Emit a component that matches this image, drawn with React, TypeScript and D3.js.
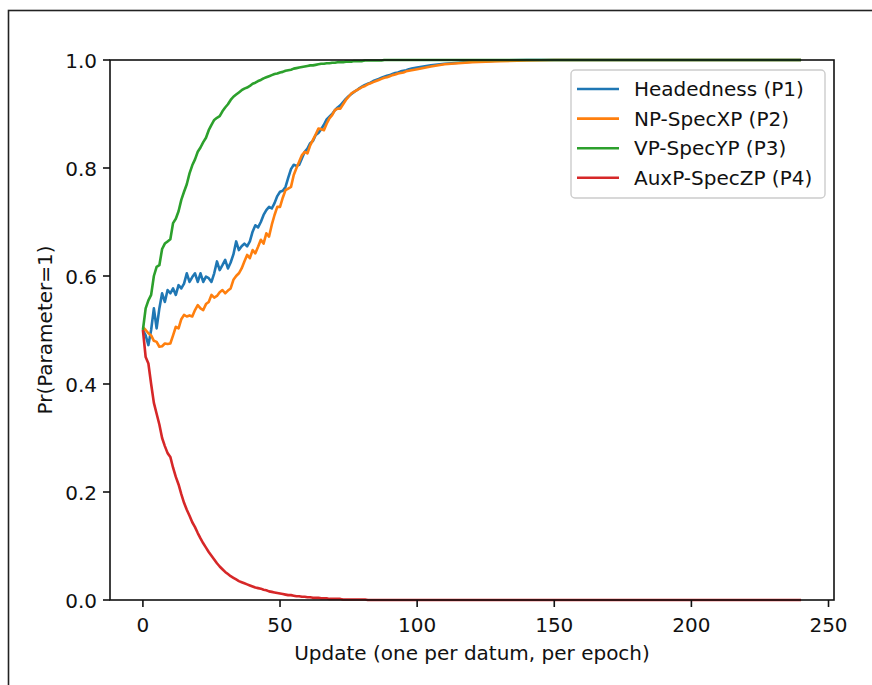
import React from "react";
import * as d3 from "d3";

// Update index (one per datum, per epoch)
const updates: number[] = [
  0, 1, 2, 3, 4, 5, 6, 7, 8, 9, 10, 11, 12, 13, 14, 15, 16, 17, 18, 19,
  20, 21, 22, 23, 24, 25, 26, 27, 28, 29, 30, 31, 32, 33, 34, 35, 36, 37, 38, 39,
  40, 41, 42, 43, 44, 45, 46, 47, 48, 49, 50, 51, 52, 53, 54, 55, 56, 57, 58, 59,
  60, 61, 62, 63, 64, 65, 66, 67, 68, 69, 70, 71, 72, 73, 74, 75, 76, 77, 78, 79,
  80, 81, 82, 83, 84, 85, 86, 87, 88, 89, 90, 91, 92, 93, 94, 95, 96, 97, 98, 99,
  100, 105, 110, 115, 120, 125, 130, 140, 150, 160, 180, 200, 220, 240,
];

const headedness: number[] = [
  0.5, 0.49, 0.472, 0.5, 0.54, 0.503, 0.54, 0.568, 0.552, 0.574, 0.568, 0.577, 0.565, 0.583, 0.577, 0.586, 0.605, 0.589, 0.598, 0.605,
  0.589, 0.605, 0.589, 0.599, 0.596, 0.589, 0.605, 0.627, 0.611, 0.62, 0.63, 0.614, 0.625, 0.64, 0.664, 0.648, 0.655, 0.66, 0.655, 0.664,
  0.682, 0.694, 0.69, 0.7, 0.713, 0.722, 0.728, 0.725, 0.735, 0.748, 0.756, 0.758, 0.765, 0.782, 0.798, 0.806, 0.804, 0.806, 0.818, 0.83,
  0.836, 0.846, 0.85, 0.861, 0.865, 0.872, 0.88, 0.89, 0.895, 0.9, 0.907, 0.912, 0.916, 0.922, 0.928, 0.933, 0.937, 0.941, 0.944, 0.948,
  0.951, 0.954, 0.956, 0.958, 0.961, 0.963, 0.965, 0.967, 0.969, 0.971, 0.972, 0.974, 0.976, 0.977, 0.979, 0.98, 0.981, 0.983, 0.984, 0.985,
  0.986, 0.99, 0.993, 0.995, 0.997, 0.998, 0.999, 1.0, 1.0, 1.0, 1.0, 1.0, 1.0, 1.0,
];

const npSpecXP: number[] = [
  0.505, 0.5, 0.494, 0.49, 0.48, 0.478, 0.469, 0.47, 0.475, 0.474, 0.475, 0.49, 0.506, 0.503, 0.52, 0.528, 0.525, 0.527, 0.525, 0.537,
  0.546, 0.54, 0.537, 0.548, 0.552, 0.565, 0.56, 0.563, 0.57, 0.574, 0.568, 0.573, 0.577, 0.593, 0.6, 0.605, 0.614, 0.627, 0.639, 0.633,
  0.648, 0.642, 0.654, 0.667, 0.66, 0.679, 0.673, 0.695, 0.713, 0.728, 0.728, 0.745, 0.759, 0.762, 0.765, 0.787, 0.8, 0.812, 0.824, 0.83,
  0.827, 0.842, 0.852, 0.862, 0.873, 0.872, 0.87, 0.882, 0.892, 0.898, 0.907, 0.91, 0.91, 0.918, 0.926, 0.932, 0.938, 0.941, 0.944, 0.947,
  0.95, 0.952, 0.955, 0.957, 0.959, 0.961, 0.963, 0.965, 0.967, 0.968, 0.97, 0.972, 0.973, 0.975, 0.976, 0.977, 0.979, 0.98, 0.981, 0.982,
  0.983, 0.988, 0.992, 0.994, 0.996, 0.997, 0.998, 0.999, 1.0, 1.0, 1.0, 1.0, 1.0, 1.0,
];

const vpSpecYP: number[] = [
  0.5, 0.54, 0.555, 0.565, 0.6, 0.617, 0.62, 0.65, 0.66, 0.664, 0.668, 0.698, 0.706, 0.72, 0.741, 0.756, 0.77, 0.79, 0.805, 0.816,
  0.83, 0.838, 0.848, 0.856, 0.87, 0.88, 0.889, 0.893, 0.896, 0.905, 0.912, 0.918, 0.926, 0.932, 0.936, 0.94, 0.944, 0.947, 0.949, 0.952,
  0.956, 0.958, 0.961, 0.963, 0.966, 0.968, 0.97, 0.972, 0.974, 0.975, 0.977, 0.978, 0.98, 0.981, 0.982, 0.984, 0.985, 0.986, 0.987, 0.988,
  0.989, 0.99, 0.99, 0.991, 0.992, 0.993, 0.993, 0.994, 0.994, 0.995, 0.995, 0.996, 0.996, 0.996, 0.997, 0.997, 0.997, 0.998, 0.998, 0.998,
  0.998, 0.999, 0.999, 0.999, 0.999, 0.999, 0.999, 0.999, 1.0, 1.0, 1.0, 1.0, 1.0, 1.0, 1.0, 1.0, 1.0, 1.0, 1.0, 1.0,
  1.0, 1.0, 1.0, 1.0, 1.0, 1.0, 1.0, 1.0, 1.0, 1.0, 1.0, 1.0, 1.0, 1.0,
];

const auxPSpecZP: number[] = [
  0.5, 0.45, 0.438, 0.4, 0.365, 0.345, 0.325, 0.3, 0.285, 0.272, 0.265, 0.245, 0.228, 0.214, 0.196, 0.18, 0.167, 0.156, 0.144, 0.135,
  0.124, 0.114, 0.105, 0.097, 0.089, 0.082, 0.075, 0.068, 0.062, 0.057, 0.052, 0.048, 0.044, 0.041, 0.038, 0.035, 0.033, 0.031, 0.029, 0.027,
  0.025, 0.023, 0.022, 0.021, 0.019, 0.018, 0.016, 0.015, 0.014, 0.013, 0.012, 0.011, 0.01, 0.009, 0.009, 0.008, 0.007, 0.007, 0.006, 0.006,
  0.005, 0.005, 0.004, 0.004, 0.004, 0.003, 0.003, 0.003, 0.002, 0.002, 0.002, 0.002, 0.002, 0.001, 0.001, 0.001, 0.001, 0.001, 0.001, 0.001,
  0.001, 0.001, 0.0, 0.0, 0.0, 0.0, 0.0, 0.0, 0.0, 0.0, 0.0, 0.0, 0.0, 0.0, 0.0, 0.0, 0.0, 0.0, 0.0, 0.0,
  0.0, 0.0, 0.0, 0.0, 0.0, 0.0, 0.0, 0.0, 0.0, 0.0, 0.0, 0.0, 0.0, 0.0,
];

const seriesNames: string[] = ["Headedness (P1)", "NP-SpecXP (P2)", "VP-SpecYP (P3)", "AuxP-SpecZP (P4)"];
const seriesValues: number[][] = [headedness, npSpecXP, vpSpecYP, auxPSpecZP];
const seriesColors: string[] = ["#1f77b4", "#ff7f0e", "#2ca02c", "#d62728"];

const xTicks: number[] = [0, 50, 100, 150, 200, 250];
const yTicks: number[] = [0.0, 0.2, 0.4, 0.6, 0.8, 1.0];
const xLabel = "Update (one per datum, per epoch)";
const yLabel = "Pr(Parameter=1)";

const W = 872;
const H = 685;
const L = 110, R = 834, T = 60, B = 600;
const FONT = "'DejaVu Sans', sans-serif";
const FS = 20;

export default function App() {
  const x = d3.scaleLinear().domain([-12, 252]).range([L, R]);
  const y = d3.scaleLinear().domain([0, 1]).range([B, T]);
  const line = d3
    .line<[number, number]>()
    .x((d) => x(d[0]))
    .y((d) => y(d[1]));

  const legX = 571, legY = 70, legW = 254, legH = 128;
  const rowY = (i: number) => 89 + i * 29.6;

  return (
    <svg
      width={W}
      height={H}
      style={{ position: "absolute", left: 0, top: 0, background: "#fff" }}
      fontFamily={FONT}
    >
      <rect x={0} y={0} width={W} height={H} fill="#fff" />
      {/* outer figure frame */}
      <rect x={8.5} y={10.5} width={W + 20} height={H + 20} fill="none" stroke="#222" strokeWidth={1.6} />

      {/* lines */}
      {seriesValues.map((vals, i) => (
        <path
          key={i}
          d={line(updates.map((u, j) => [u, vals[j]] as [number, number])) || ""}
          fill="none"
          stroke={seriesColors[i]}
          strokeWidth={2.6}
          strokeLinejoin="round"
          strokeLinecap="butt"
        />
      ))}

      {/* spines */}
      <rect x={L} y={T} width={R - L} height={B - T} fill="none" stroke="#111" strokeWidth={1.6} />

      {/* x ticks */}
      {xTicks.map((t) => (
        <g key={"x" + t}>
          <line x1={x(t)} x2={x(t)} y1={B} y2={B + 7} stroke="#111" strokeWidth={1.6} />
          <text x={x(t)} y={B + 32} textAnchor="middle" fontSize={FS} fill="#111">
            {t}
          </text>
        </g>
      ))}
      {/* y ticks */}
      {yTicks.map((t) => (
        <g key={"y" + t}>
          <line x1={L - 7} x2={L} y1={y(t)} y2={y(t)} stroke="#111" strokeWidth={1.6} />
          <text x={L - 13} y={y(t) + 8} textAnchor="end" fontSize={FS} fill="#111">
            {t.toFixed(1)}
          </text>
        </g>
      ))}

      {/* axis labels */}
      <text x={(L + R) / 2} y={660} textAnchor="middle" fontSize={FS} fill="#111">
        {xLabel}
      </text>
      <text
        transform={`translate(52, ${(T + B) / 2}) rotate(-90)`}
        textAnchor="middle"
        fontSize={FS}
        fill="#111"
      >
        {yLabel}
      </text>

      {/* legend */}
      <rect
        x={legX}
        y={legY}
        width={legW}
        height={legH}
        rx={4}
        fill="#fff"
        fillOpacity={0.8}
        stroke="#cccccc"
        strokeWidth={1.4}
      />
      {seriesNames.map((name, i) => (
        <g key={name}>
          <line x1={577} x2={619} y1={rowY(i)} y2={rowY(i)} stroke={seriesColors[i]} strokeWidth={2.6} />
          <text x={634} y={rowY(i) + 7} fontSize={FS} fill="#111">
            {name}
          </text>
        </g>
      ))}
    </svg>
  );
}
